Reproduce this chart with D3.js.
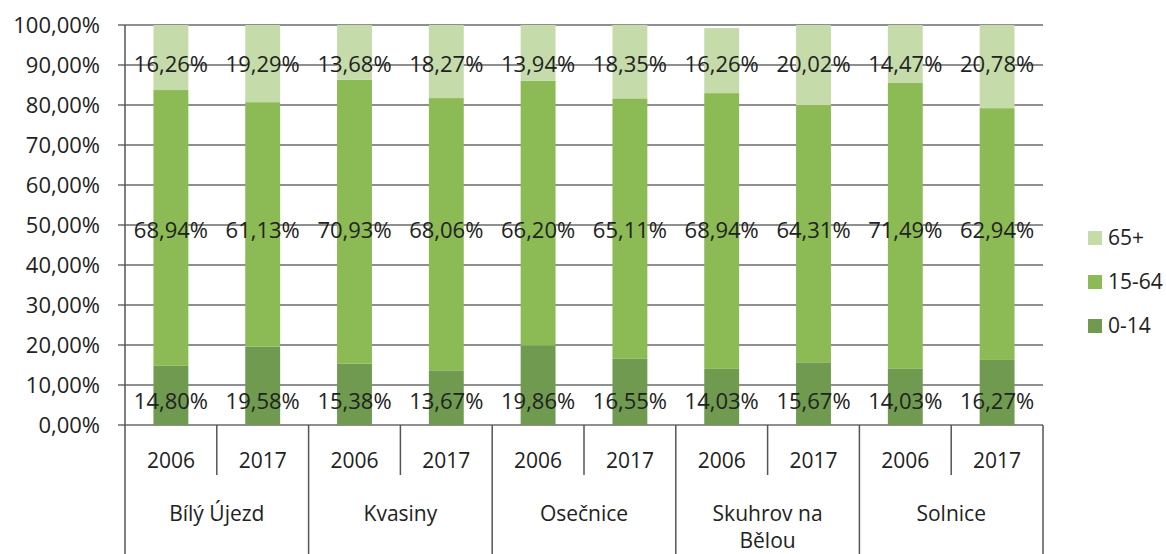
<!DOCTYPE html>
<html>
<head>
<meta charset="utf-8">
<script src="https://cdn.jsdelivr.net/npm/d3@7"></script>
<style>
  body { margin: 0; background: #fff; }
  svg { display: block; font-family: "Open Sans", sans-serif; }
</style>
</head>
<body>
<svg width="1166" height="554"></svg>
<script>
// data
const obce = ["Bílý Újezd", "Kvasiny", "Osečnice", "Skuhrov na Bělou", "Solnice"];
const roky = ["2006", "2017"];
const skupiny = ["0-14", "15-64", "65+"];
const deti = [14.80, 19.58, 15.38, 13.67, 19.86, 16.55, 14.03, 15.67, 14.03, 16.27];
const produktivni = [68.94, 61.13, 70.93, 68.06, 66.20, 65.11, 68.94, 64.31, 71.49, 62.94];
const seniori = [16.26, 19.29, 13.68, 18.27, 13.94, 18.35, 16.26, 20.02, 14.47, 20.78];
const yTicks = [0, 10, 20, 30, 40, 50, 60, 70, 80, 90, 100];

const colors = { "0-14": "#6f9a50", "15-64": "#8cba55", "65+": "#c6dbaa" };
// label heights per series (in %), as placed in the original
const labelLevel = { "0-14": 6, "15-64": 48.8, "65+": 90.3 };

const cz = d3.formatLocale({ decimal: ",", thousands: " ", grouping: [3], currency: ["", " Kč"] });
const pct = v => cz.format(".2f")(v) + "%";

// build rows
const rows = [];
obce.forEach((o, i) => roky.forEach((r, j) => {
  const k = i * 2 + j;
  rows.push({ obec: o, rok: r, "0-14": deti[k], "15-64": produktivni[k], "65+": seniori[k] });
}));

const svg = d3.select("svg");
const mLeft = 125, mRight = 1043, mTop = 25, mBottom = 425;

const y = d3.scaleLinear().domain([0, 100]).range([mBottom, mTop]);
const x0 = d3.scaleBand().domain(obce).range([mLeft, mRight]);
const x1 = d3.scaleBand().domain(roky).range([0, x0.bandwidth()]).paddingInner(0.62).paddingOuter(0.31);
const x1full = d3.scaleBand().domain(roky).range([0, x0.bandwidth()]);

// y axis labels
svg.append("g")
  .attr("transform", `translate(${mLeft - 7},0)`)
  .call(d3.axisLeft(y).tickValues(yTicks).tickSize(0).tickFormat(pct).tickPadding(18))
  .call(g => g.select(".domain").remove())
  .call(g => g.selectAll("text").attr("font-size", 22).attr("fill", "#222").attr("font-family", "Open Sans"));

// gridlines
svg.append("g").selectAll("line").data(yTicks).join("line")
  .attr("x1", mLeft - 7).attr("x2", mRight)
  .attr("y1", d => y(d)).attr("y2", d => y(d))
  .attr("stroke", "#6a6a6a").attr("stroke-width", 1.5);

// stacked bars
const stack = d3.stack().keys(skupiny)(rows);
svg.append("g").selectAll("g").data(stack).join("g")
  .attr("fill", d => colors[d.key])
  .selectAll("rect").data(d => d).join("rect")
  .attr("x", d => x0(d.data.obec) + x1(d.data.rok))
  .attr("width", x1.bandwidth())
  .attr("y", d => y(d[1]))
  .attr("height", d => y(d[0]) - y(d[1]));

// data labels
const lab = svg.append("g").attr("font-size", 22).attr("fill", "#222").attr("text-anchor", "middle");
skupiny.forEach(s => {
  lab.selectAll(null).data(rows).join("text")
    .attr("x", d => x0(d.obec) + x1(d.rok) + x1.bandwidth() / 2)
    .attr("y", y(labelLevel[s]))
    .attr("dy", "0.35em")
    .text(d => pct(d[s]));
});

// category axis
const ax = svg.append("g").attr("stroke", "#555").attr("stroke-width", 1.5);
ax.append("line").attr("x1", mLeft).attr("x2", mLeft).attr("y1", mTop).attr("y2", 554);
ax.selectAll(".sep").data(obce).join("line")
  .attr("x1", d => x0(d) + x0.bandwidth()).attr("x2", d => x0(d) + x0.bandwidth())
  .attr("y1", mBottom).attr("y2", 554);
ax.selectAll(".yr").data(obce).join("line")
  .attr("x1", d => x0(d) + x1full("2017")).attr("x2", d => x0(d) + x1full("2017"))
  .attr("y1", mBottom).attr("y2", 475);

const cat = svg.append("g").attr("font-size", 21).attr("fill", "#222").attr("text-anchor", "middle");
obce.forEach(o => {
  roky.forEach(r => {
    cat.append("text")
      .attr("x", x0(o) + x1full(r) + x1full.bandwidth() / 2)
      .attr("y", 468).text(r);
  });
  const parts = o === "Skuhrov na Bělou" ? ["Skuhrov na", "Bělou"] : [o];
  parts.forEach((p, i) => {
    cat.append("text")
      .attr("x", x0(o) + x0.bandwidth() / 2)
      .attr("y", 521 + i * 27).text(p);
  });
});

// legend
const leg = svg.append("g").attr("transform", "translate(1088,231)");
["65+", "15-64", "0-14"].forEach((s, i) => {
  const g = leg.append("g").attr("transform", `translate(0,${i * 44})`);
  g.append("rect").attr("width", 14).attr("height", 14).attr("fill", colors[s]);
  g.append("text").attr("x", 20).attr("y", 7).attr("dy", "0.35em")
    .attr("font-size", 21).attr("fill", "#222").text(s);
});
</script>
</body>
</html>
